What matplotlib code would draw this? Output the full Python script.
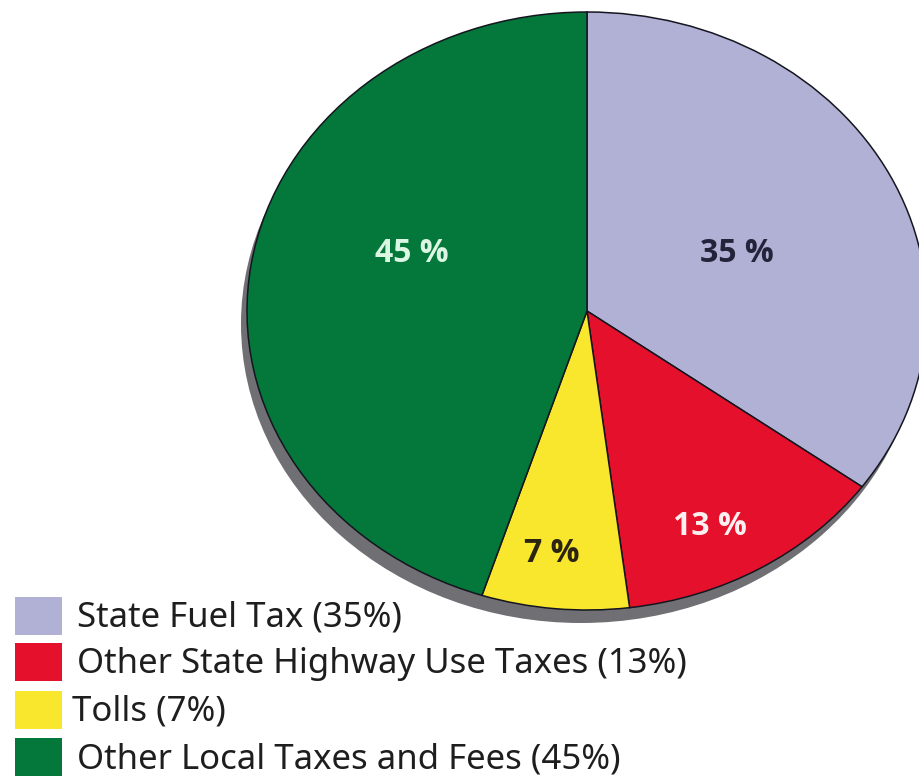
import matplotlib
matplotlib.use("Agg")
import matplotlib.pyplot as plt
from matplotlib.patches import Ellipse, Rectangle
import matplotlib.transforms as mtransforms

# Highway revenue sources (percent)
categories = ["State Fuel Tax", "Other State Highway Use Taxes", "Tolls", "Other Local Taxes and Fees"]
shares = [35, 13, 7, 45]
colors = ["#b1b1d5", "#e5102b", "#f8e72c", "#04773a"]
label_colors = ["#23233a", "#fdeef0", "#2a2410", "#dcf6e4"]
slice_labels = ["35 %", "13 %", "7 %", "45 %"]
# label anchor points inside the unit pie
label_xy = [(0.44, 0.193), (0.362, -0.72), (-0.103, -0.81), (-0.515, 0.193)]

W, H = 919, 779
fig = plt.figure(figsize=(W / 100, H / 100), dpi=100)
fig.patch.set_facecolor("white")

# the pie fills an ellipse centred at (587, 311) px with radii 340 x 299
cx, cy, rx, ry = 587, 311, 340, 299
ax = fig.add_axes([(cx - rx) / W, 1 - (cy + ry) / H, 2 * rx / W, 2 * ry / H])
ax.axis("off")

# drop shadow offset toward the lower left
shadow_off = mtransforms.offset_copy(ax.transData, fig=fig, x=-6, y=-13, units="dots")
ax.add_patch(Ellipse((0, 0), 2, 2, transform=shadow_off, facecolor="#6f6f74",
                     edgecolor="none", zorder=0, clip_on=False))

wedges, texts = ax.pie(shares, colors=colors, startangle=90, counterclock=False,
                       radius=1, center=(0, 0), frame=False,
                       wedgeprops=dict(edgecolor="#151520", linewidth=1.1))
for w in wedges:
    w.set_clip_on(False)
    w.set_zorder(2)
ax.set_aspect("auto")
ax.set_xlim(-1, 1)
ax.set_ylim(-1, 1)

for (x, y), lab, col in zip(label_xy, slice_labels, label_colors):
    ax.text(x, y, lab, ha="center", va="center", color=col, fontsize=23,
            fontweight="bold", family="Open Sans", zorder=3)

# legend: colour swatches with labels
row_centers = [616, 662, 710, 757]
text_x = [77, 77, 72, 77]
for cat, val, col, yc, tx in zip(categories, shares, colors, row_centers, text_x):
    fig.patches.append(Rectangle((15 / W, 1 - (yc + 19) / H), 47 / W, 38 / H,
                                 transform=fig.transFigure, facecolor=col,
                                 edgecolor="none", zorder=3))
    fig.text(tx / W, 1 - (yc + 2) / H, f"{cat} ({val}%)", ha="left", va="center",
             fontsize=25, color="#1e1e1e", family="Noto Sans")

fig.savefig("out.png", dpi=100, facecolor="white")
